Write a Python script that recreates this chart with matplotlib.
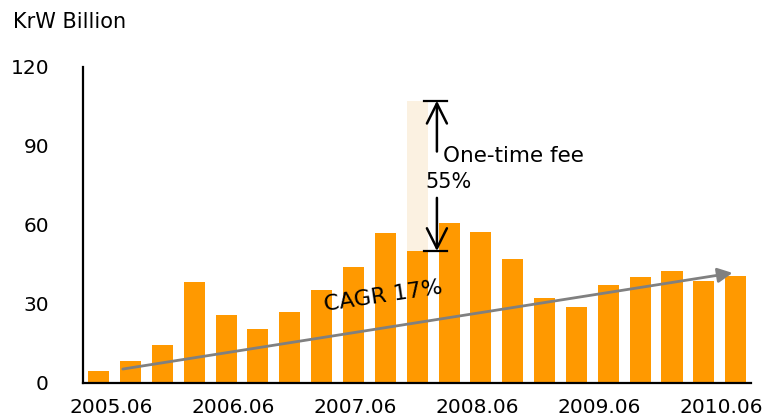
import numpy as np
import matplotlib.pyplot as plt
import matplotlib.transforms as mtransforms

plt.rcParams['font.family'] = ['DejaVu Sans']

# quarterly values, KrW billion
periods = ["2005.06", "2005.09", "2005.12", "2006.03",
           "2006.06", "2006.09", "2006.12", "2007.03",
           "2007.06", "2007.09", "2007.12", "2008.03",
           "2008.06", "2008.09", "2008.12", "2009.03",
           "2009.06", "2009.09", "2009.12", "2010.03",
           "2010.06"]
values = [4.6, 8.2, 14.3, 38.2, 25.9, 20.6, 26.8, 35.3, 44.1, 57.1,
          50.1, 60.6, 57.5, 47.1, 32.2, 28.9, 37.1, 40.4, 42.4, 38.9, 40.6]
one_time_fee = [0] * 21
one_time_fee[10] = 57.1

y_ticks = [0, 30, 60, 90, 120]
shown_labels = ["2005.06", "2006.06", "2007.06", "2008.06", "2009.06", "2010.06"]

ORANGE = '#FF9900'
LIGHT = '#FBF1E1'

fig = plt.figure(figsize=(7.65, 4.2), dpi=100)
ax = fig.add_axes([0.1085, 0.0881, 0.8732, 0.7524])

x = np.arange(len(periods))
ax.bar(x, values, width=0.66, color=ORANGE, zorder=2)
ax.bar(x, one_time_fee, width=0.66, bottom=values, color=LIGHT, zorder=1)

ax.set_xlim(-0.49, 20.48)
ax.set_ylim(0, 120)
ax.set_yticks(y_ticks)
ax.set_yticklabels([str(t) for t in y_ticks], fontsize=14.5)
tick_pos = [periods.index(p) for p in shown_labels]
ax.set_xticks(tick_pos)
ax.set_xticklabels(shown_labels, fontsize=14.5)
ax.tick_params(length=0)
ax.tick_params(axis='y', pad=24.5)
ax.tick_params(axis='x', pad=10.5)

# category labels are spread evenly, slightly inside the plot edges
for k, lab in enumerate(ax.get_xticklabels()):
    dx = (12.5 - 5.4 * k) / 100.0
    lab.set_transform(lab.get_transform() +
                      mtransforms.ScaledTranslation(dx, 0, fig.dpi_scale_trans))

for s in ['top', 'right']:
    ax.spines[s].set_visible(False)
for s in ['left', 'bottom']:
    ax.spines[s].set_linewidth(1.6)

fig.text(0.017, 0.948, "KrW Billion", fontsize=15, va='center', ha='left')

# CAGR trend arrow
ax.annotate("", xy=(19.9, 41.8), xytext=(0.76, 5.3),
            arrowprops=dict(arrowstyle='-|>', color='#808080', lw=2,
                            mutation_scale=22, shrinkA=0, shrinkB=0), zorder=4)
ax.text(8.93, 32.9, "CAGR 17%", fontsize=16, rotation=8.5, ha='center', va='center',
        rotation_mode='anchor', zorder=5)

# one-time fee marker
top = values[10] + one_time_fee[10]
bot = values[10]
ax_x = 10.62
ax.plot([10.22, 10.93], [top, top], color='black', lw=1.6, zorder=5)
ax.plot([10.22, 10.93], [bot, bot], color='black', lw=1.6, zorder=5)
ax.annotate("", xy=(ax_x, top), xytext=(ax_x, 87.9),
            arrowprops=dict(arrowstyle='->', color='black', lw=1.8,
                            mutation_scale=36, shrinkA=0, shrinkB=0), zorder=5)
ax.annotate("", xy=(ax_x, bot), xytext=(ax_x, 70.3),
            arrowprops=dict(arrowstyle='->', color='black', lw=1.8,
                            mutation_scale=36, shrinkA=0, shrinkB=0), zorder=5)
ax.text(10.82, 86.2, "One-time fee", fontsize=15.5, ha='left', va='center', zorder=5)
ax.text(10.25, 76.5, "55%", fontsize=15, ha='left', va='center', zorder=5)

fig.savefig("out.png", dpi=100)
